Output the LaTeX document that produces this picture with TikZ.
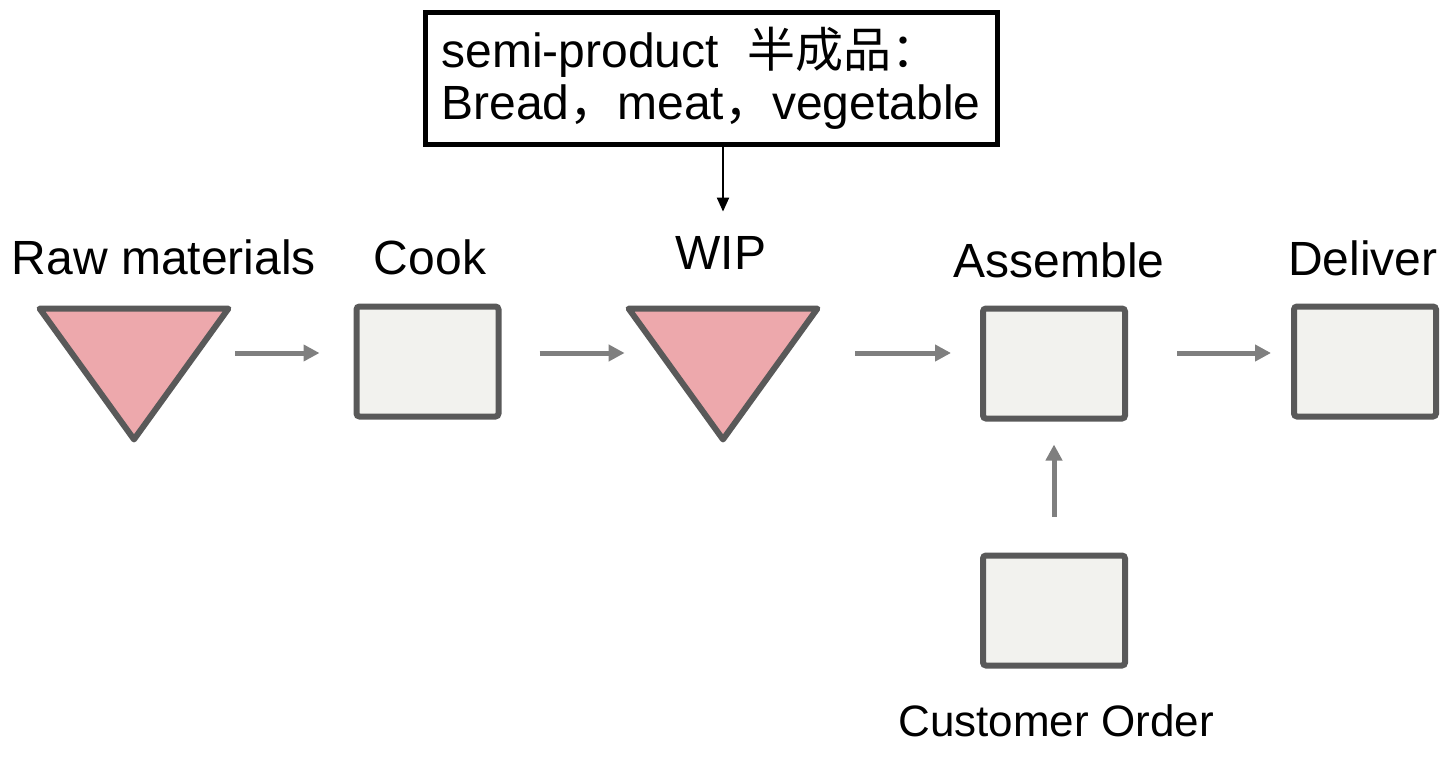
\documentclass[tikz,border=0pt]{standalone}
\usepackage{fontspec}
\setmainfont{Liberation Sans}
\newfontfamily\cjk{Noto Sans CJK SC}
\usetikzlibrary{arrows.meta,calc}
\definecolor{edgegray}{HTML}{595959}
\definecolor{arrowgray}{HTML}{7F7F7F}
\definecolor{boxfill}{HTML}{F2F2EE}
\definecolor{trifill}{HTML}{EDA8AC}
\begin{document}
\begin{tikzpicture}[x=0.5pt,y=-0.5pt,
  stepbox/.style={draw=edgegray, fill=boxfill, line width=3pt, rounded corners=1.5pt,
    minimum width=71pt, minimum height=55pt, inner sep=0pt},
  tribox/.style={minimum width=94pt, minimum height=65pt, inner sep=0pt},
  tripath/.style={draw=edgegray, fill=trifill, line width=3pt, line join=round},
  flow/.style={draw=arrowgray, line width=2.5pt, -{Triangle[length=8pt,width=8pt]}},
  callarrow/.style={draw=black, line width=1pt, -{Triangle[length=7pt,width=6pt]}},
  lbl/.style={anchor=base, inner sep=0pt, font=\fontsize{24pt}{26pt}\selectfont},
  callout/.style={draw=black, fill=white, line width=2.5pt, minimum width=286pt, minimum height=66pt,
    text width=270pt, inner xsep=8pt, inner ysep=0pt, align=left, font=\fontsize{24pt}{26pt}\selectfont}]
\useasboundingbox (0,0) rectangle (1444,759);
\coordinate (rowy) at (0,353);
% nodes
\node[tribox] (raw) at (134,374) {};
\draw[tripath] (raw.north west) -- (raw.north east) -- (raw.south) -- cycle;
\node[stepbox] (cook) at (427.5,361.5) {};
\node[tribox] (wip) at (723,374) {};
\draw[tripath] (wip.north west) -- (wip.north east) -- (wip.south) -- cycle;
\node[stepbox] (assemble) at (1054,363.5) {};
\node[stepbox] (deliver) at (1365,361.5) {};
\node[stepbox] (customer) at (1054,610.5) {};
\node[callout] (note) at (711.5,78.5) {semi-product\hspace{0.6em}{\cjk 半成品：}\\Bread{\cjk ，}meat{\cjk ，}vegetable};
% labels
\node[lbl] (lraw) at (164,274) {Raw materials};
\node[lbl] (lcook) at (430,274) {Cook};
\node[lbl] (lwip) at (721,270) {WIP};
\node[lbl] (lassemble) at (1059,278) {Assemble};
\node[lbl] (ldeliver) at (1363,275) {Deliver};
\node[lbl, font=\fontsize{22pt}{24pt}\selectfont] (lcustomer) at (1056,736) {Customer Order};
% connectors
\draw[flow, shorten <=3.5pt, shorten >=17pt] (raw.east |- rowy) -- (cook.west |- rowy);
\draw[flow, shorten <=19pt, shorten >=2pt] (cook.east |- rowy) -- (wip.west |- rowy);
\draw[flow, shorten <=19pt, shorten >=14.5pt] (wip.east |- rowy) -- (assemble.west |- rowy);
\draw[flow, shorten <=24.5pt, shorten >=10pt] (assemble.east |- rowy) -- (deliver.west |- rowy);
\draw[flow, shorten <=18pt, shorten >=11.5pt] (customer.north) -- (assemble.south);
\draw[callarrow, shorten >=48.5pt] (wip.north |- note.south) -- (wip.north);
\end{tikzpicture}
\end{document}
